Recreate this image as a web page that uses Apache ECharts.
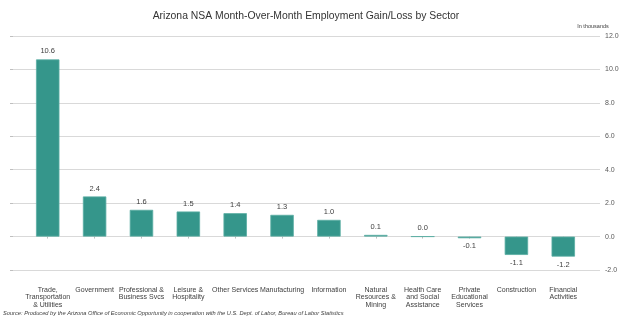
<!DOCTYPE html>
<html>
<head>
<meta charset="utf-8">
<script src="https://cdn.jsdelivr.net/npm/echarts@6/dist/echarts.min.js"></script>
<style>
  html, body { margin: 0; padding: 0; background: #ffffff; }
  #chart { width: 624px; height: 322px; }
</style>
</head>
<body>
<div id="chart"></div>
<script>
// Sectors (line breaks as they wrap under the axis)
const sectors = [
  'Trade,\nTransportation\n& Utilities',
  'Government',
  'Professional &\nBusiness Svcs',
  'Leisure &\nHospitality',
  'Other Services',
  'Manufacturing',
  'Information',
  'Natural\nResources &\nMining',
  'Health Care\nand Social\nAssistance',
  'Private\nEducational\nServices',
  'Construction',
  'Financial\nActivities'
];

// Month-over-month change, in thousands
const changes = [10.6, 2.4, 1.6, 1.5, 1.4, 1.3, 1.0, 0.1, 0.0, -0.1, -1.1, -1.2];

// Value axis range
const yMin = -2;
const yMax = 12;
const yStep = 2;

const FONT = '"Liberation Sans", Arial, sans-serif';
const BAR = '#35968B';

const chart = echarts.init(document.getElementById('chart'), null, { renderer: 'canvas' });

chart.setOption({
  animation: false,
  backgroundColor: '#ffffff',
  textStyle: { fontFamily: FONT },
  title: [
    {
      text: 'Arizona NSA Month-Over-Month Employment Gain/Loss by Sector',
      left: 306, top: 11, padding: 0, textAlign: 'center',
      textStyle: { fontFamily: FONT, fontSize: 10.4, fontWeight: 'normal', color: '#333333' }
    },
    {
      text: 'In thousands',
      left: 593, top: 23.5, padding: 0, textAlign: 'center',
      textStyle: { fontFamily: FONT, fontSize: 5.5, fontWeight: 'normal', color: '#404040' }
    },
    {
      text: 'Source: Produced by the Arizona Office of Economic Opportunity in cooperation with the U.S. Dept. of Labor, Bureau of Labor Statistics',
      left: 3, top: 310, padding: 0,
      textStyle: { fontFamily: FONT, fontSize: 5.7, fontStyle: 'italic', fontWeight: 'normal', color: '#404040' }
    }
  ],
  grid: [
    // gridlines and value labels span the full plot width
    { left: 10, right: 24, top: 36, bottom: 52 },
    // bars and category labels
    { left: 24.3, right: 37.3, top: 36, bottom: 52 }
  ],
  xAxis: [
    { gridIndex: 0, type: 'value', min: 0, max: 1, show: false },
    {
      gridIndex: 1,
      type: 'category',
      data: sectors,
      offset: 12,
      axisLine: { show: false },
      axisTick: { show: true, alignWithLabel: true, length: 2, lineStyle: { color: '#bfbfbf' } },
      axisLabel: {
        interval: 0, margin: 4.5, fontSize: 7, lineHeight: 7.3,
        color: '#404040', fontFamily: FONT, align: 'center'
      }
    }
  ],
  yAxis: [
    {
      gridIndex: 0,
      type: 'value',
      position: 'right',
      min: yMin, max: yMax, interval: yStep,
      axisLine: { show: false },
      axisTick: { show: true, length: 3, lineStyle: { color: '#bfbfbf' } },
      axisLabel: {
        margin: 5, fontSize: 7, color: '#595959', fontFamily: FONT,
        formatter: v => v.toFixed(1)
      },
      splitLine: { show: true, lineStyle: { color: '#d9d9d9', width: 1 } }
    },
    {
      gridIndex: 1,
      type: 'value',
      min: yMin, max: yMax, interval: yStep,
      show: false,
      splitLine: { show: false }
    }
  ],
  series: [
    {
      type: 'bar',
      xAxisIndex: 1,
      yAxisIndex: 1,
      barCategoryGap: '50%',
      itemStyle: { color: BAR, borderColor: '#5aada3', borderWidth: 0.8 },
      data: changes.map(v => ({
        value: v,
        label: { position: v >= 0 ? 'top' : 'bottom' }
      })),
      label: {
        show: true,
        distance: 4,
        fontSize: 7.5,
        color: '#404040',
        fontFamily: FONT,
        formatter: p => Number(p.value).toFixed(1)
      }
    }
  ]
});
</script>
</body>
</html>
